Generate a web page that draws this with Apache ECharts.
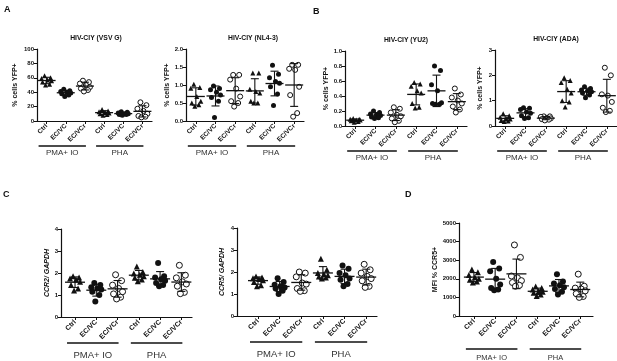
<!DOCTYPE html>
<html>
<head>
<meta charset="utf-8">
<script src="https://cdn.jsdelivr.net/npm/echarts@6/dist/echarts.min.js"></script>
<style>
html,body{margin:0;padding:0;background:#fff}
#chart{width:617px;height:361px}
</style>
</head>
<body>
<div id="chart"></div>
<script>
// categories & group labels
var categories = ['Ctrl', 'EC/VC', 'EC/VCr', 'Ctrl', 'EC/VC', 'EC/VCr'];
var stimGroups = ['PMA+ IO', 'PHA'];

// one array per panel, one sub array per category
var vsvG = [
    [63, 60, 59, 57, 56, 54, 51, 50],
    [44, 42, 41, 40, 39, 38, 36, 34],
    [56, 54, 52, 50, 47, 45, 43, 41],
    [16, 14, 13, 12, 11, 10, 9, 8],
    [13, 12, 11, 10, 10, 9, 9, 8],
    [26, 22, 17, 14, 10, 7, 6, 5]
];
var nl43 = [
    [1.02, 0.93, 0.91, 0.68, 0.55, 0.5, 0.45, 0.41],
    [0.97, 0.9, 0.87, 0.8, 0.72, 0.65, 0.55, 0.1],
    [1.28, 1.28, 1.15, 0.9, 0.68, 0.55, 0.5, 0.4],
    [1.33, 1.33, 0.88, 0.82, 0.78, 0.55, 0.5, 0.5],
    [1.55, 1.3, 1.2, 1.1, 1.05, 0.95, 0.75, 0.43],
    [1.56, 1.56, 1.45, 1.42, 0.95, 0.72, 0.22, 0.12]
];
var yu2 = [
    [0.1, 0.09, 0.09, 0.08, 0.08, 0.07, 0.06, 0.05],
    [0.2, 0.18, 0.16, 0.15, 0.14, 0.12, 0.11, 0.1],
    [0.25, 0.23, 0.18, 0.15, 0.13, 0.1, 0.07, 0.05],
    [0.58, 0.56, 0.53, 0.47, 0.44, 0.3, 0.25, 0.24],
    [0.8, 0.74, 0.55, 0.47, 0.31, 0.3, 0.29, 0.29],
    [0.5, 0.42, 0.38, 0.34, 0.3, 0.26, 0.22, 0.18]
];
var ada = [
    [0.48, 0.4, 0.35, 0.3, 0.28, 0.22, 0.2, 0.18],
    [0.72, 0.7, 0.65, 0.55, 0.5, 0.4, 0.33, 0.3],
    [0.38, 0.38, 0.36, 0.32, 0.3, 0.27, 0.25, 0.22],
    [1.9, 1.8, 1.72, 1.45, 1.3, 1.0, 0.95, 0.75],
    [1.55, 1.48, 1.42, 1.38, 1.35, 1.3, 1.22, 1.12],
    [2.3, 2.0, 1.25, 1.2, 0.95, 0.72, 0.6, 0.55]
];
var ccr2 = [
    [1.85, 1.8, 1.75, 1.7, 1.6, 1.45, 1.3, 1.2],
    [1.55, 1.45, 1.35, 1.3, 1.25, 1.15, 1.0, 0.7],
    [1.92, 1.65, 1.45, 1.3, 1.15, 1.05, 0.9, 0.82],
    [2.3, 2.05, 1.98, 1.92, 1.85, 1.78, 1.7, 1.62],
    [2.45, 1.85, 1.8, 1.72, 1.65, 1.55, 1.45, 1.4],
    [2.35, 1.9, 1.78, 1.6, 1.5, 1.4, 1.12, 1.06]
];
var ccr5 = [
    [1.8, 1.75, 1.72, 1.68, 1.62, 1.55, 1.4, 1.35],
    [1.72, 1.55, 1.42, 1.35, 1.3, 1.25, 1.15, 1.0],
    [2.0, 1.95, 1.78, 1.5, 1.45, 1.25, 1.15, 1.12],
    [2.6, 2.1, 1.95, 1.9, 1.85, 1.8, 1.75, 1.7],
    [2.3, 2.15, 1.95, 1.85, 1.7, 1.65, 1.45, 1.35],
    [2.35, 2.1, 1.95, 1.8, 1.7, 1.6, 1.35, 1.3]
];
var mfiCcr5 = [
    [2500, 2350, 2200, 2080, 2000, 1950, 1850, 1800],
    [2900, 2550, 2400, 2000, 1700, 1500, 1420, 1380],
    [3820, 3150, 2150, 2050, 1900, 1800, 1650, 1600],
    [1580, 1500, 1420, 1350, 1300, 1250, 1150, 1080],
    [2250, 1850, 1750, 1650, 1550, 1450, 1300, 1150],
    [2250, 1600, 1500, 1450, 1350, 1200, 1050, 1000]
];

// y tick labels
var ticksVsv = ['0', '20', '40', '60', '80', '100'];
var ticksNl = ['0.0', '0.5', '1.0', '1.5', '2.0'];
var ticksYu = ['0.0', '0.2', '0.4', '0.6', '0.8', '1.0'];
var ticksAda = ['0', '1', '2', '3'];
var ticksCcr = ['0', '1', '2', '3', '4'];
var ticksMfi = ['0', '1000', '2000', '3000', '4000', '5000'];

// styles
var INK = '#111';
var FONT = '"Liberation Sans", Arial, sans-serif';
var SYMBOLS = ['triangle', 'circle', 'circle', 'triangle', 'circle', 'circle'];
var OPEN = [false, false, true, false, false, true];
var JITTER = [-2, 4, -5, 1, 5, -4, 3, -1];

var panels = [
    {data: vsvG, ticks: ticksVsv, title: 'HIV-CIY (VSV G)', yName: '% cells YFP+', left: 37, top: 49, width: 115, height: 72, xMin: -0.5, xMax: 5.5, nameGap: 18, sym: 5, lineDy: 25, labelDy: 32, labelSize: 8},
    {data: nl43, ticks: ticksNl, title: 'HIV-CIY (NL4-3)', yName: '% cells YFP+', left: 186, top: 49, width: 118, height: 72, xMin: -0.5, xMax: 5.5, nameGap: 15, sym: 5, lineDy: 25, labelDy: 32, labelSize: 8},
    {data: yu2, ticks: ticksYu, title: 'HIV-CIY (YU2)', yName: '% cells YFP+', left: 345, top: 51, width: 122, height: 75, xMin: -0.5, xMax: 5.5, nameGap: 12, sym: 5, lineDy: 25, labelDy: 32, labelSize: 8},
    {data: ada, ticks: ticksAda, title: 'HIV-CIY (ADA)', yName: '% cells YFP+', left: 495, top: 50, width: 122, height: 76, xMin: -0.5, xMax: 5.5, nameGap: 11, sym: 5, lineDy: 25, labelDy: 32, labelSize: 8},
    {data: ccr2, ticks: ticksCcr, title: '', yName: 'CCR2/ GAPDH', italic: true, left: 61, top: 229, width: 131, height: 88, xMin: -0.66, xMax: 5.5, nameGap: 9, sym: 6, lineDy: 26, labelDy: 38, labelSize: 9.5},
    {data: ccr5, ticks: ticksCcr, title: '', yName: 'CCR5/ GAPDH', italic: true, left: 237, top: 228, width: 140, height: 88, xMin: -0.97, xMax: 5.5, nameGap: 11, sym: 6, lineDy: 26, labelDy: 38, labelSize: 9.5},
    {data: mfiCcr5, ticks: ticksMfi, title: '', yName: 'MFI % CCR5+', left: 459, top: 223, width: 134, height: 93, xMin: -0.7, xMax: 5.6, nameGap: 20, sym: 6, lineDy: 33, labelDy: 42, labelSize: 7.5}
];

function meanSd(arr) {
    var m = arr.reduce(function (a, b) { return a + b; }, 0) / arr.length;
    var v = arr.reduce(function (a, b) { return a + (b - m) * (b - m); }, 0) / (arr.length - 1);
    return [m, Math.sqrt(v)];
}

var idx = [0, 1, 2, 3, 4, 5];
var grids = [], xAxes = [], yAxes = [], series = [];

panels.forEach(function (p, pi) {
    grids.push({left: p.left, top: p.top, width: p.width, height: p.height});
    xAxes.push({
        type: 'value', gridIndex: pi, min: p.xMin, max: p.xMax,
        splitLine: {show: false},
        axisLine: {onZero: false, lineStyle: {color: INK, width: 1.2}},
        axisTick: {customValues: idx, length: 3, lineStyle: {color: INK}},
        axisLabel: {
            customValues: idx, rotate: 45, margin: 4,
            fontSize: pi < 4 ? 6.5 : 7, fontWeight: 'bold', fontFamily: FONT, color: INK,
            formatter: function (v) { return categories[Math.round(v)]; }
        }
    });
    var nums = p.ticks.map(parseFloat);
    yAxes.push({
        type: 'value', gridIndex: pi,
        min: nums[0], max: nums[nums.length - 1], interval: nums[1] - nums[0],
        splitLine: {show: false},
        axisLine: {show: true, onZero: false, lineStyle: {color: INK, width: 1.2}},
        axisTick: {show: true, length: 3, lineStyle: {color: INK}},
        axisLabel: {
            margin: 3, fontSize: 6, fontWeight: 'bold', fontFamily: FONT, color: INK,
            formatter: function (v) { return p.ticks[nums.indexOf(v)] || ''; }
        },
        name: p.yName, nameLocation: 'middle', nameRotate: 90, nameGap: p.nameGap,
        nameTextStyle: {fontSize: 7, fontWeight: 'bold', fontStyle: p.italic ? 'italic' : 'normal', fontFamily: FONT, color: INK}
    });

    p.data.forEach(function (vals, g) {
        series.push({
            type: 'scatter', xAxisIndex: pi, yAxisIndex: pi,
            symbol: SYMBOLS[g], symbolSize: p.sym,
            itemStyle: {color: OPEN[g] ? '#fff' : INK, borderColor: INK, borderWidth: OPEN[g] ? 1 : 0, opacity: 1},
            data: vals.map(function (v, k) {
                return {value: [g, v], symbolOffset: [JITTER[k % JITTER.length], 0]};
            }),
            z: 2, silent: true, clip: false
        });
    });

    var hw = p.sym + 4, cw = 4;
    series.push({
        type: 'custom', xAxisIndex: pi, yAxisIndex: pi, z: 3, silent: true,
        data: p.data.map(function (vals, g) { var s = meanSd(vals); return [g, s[0], s[1]]; }),
        renderItem: function (params, api) {
            var x = api.value(0), m = api.value(1), s = api.value(2);
            var c = api.coord([x, m]), t = api.coord([x, m + s]), b = api.coord([x, m - s]);
            var st = {stroke: INK, lineWidth: 1.1};
            return {type: 'group', children: [
                {type: 'line', shape: {x1: c[0] - hw, y1: c[1], x2: c[0] + hw, y2: c[1]}, style: {stroke: INK, lineWidth: 1.3}},
                {type: 'line', shape: {x1: c[0], y1: t[1], x2: c[0], y2: b[1]}, style: st},
                {type: 'line', shape: {x1: c[0] - cw, y1: t[1], x2: c[0] + cw, y2: t[1]}, style: st},
                {type: 'line', shape: {x1: c[0] - cw, y1: b[1], x2: c[0] + cw, y2: b[1]}, style: st}
            ]};
        }
    });
});

function txt(text, x, y, size, weight, align) {
    return {
        type: 'text', x: x, y: y, silent: true,
        style: {text: text, fill: INK, font: weight + ' ' + size + 'px ' + FONT,
            align: align || 'center', verticalAlign: 'middle',
            textAlign: align || 'center', textVerticalAlign: 'middle'}
    };
}

var chart = echarts.init(document.getElementById('chart'), null, {renderer: 'canvas'});
chart.setOption({
    animation: false,
    backgroundColor: '#fff',
    grid: grids, xAxis: xAxes, yAxis: yAxes, series: series
});

// titles, panel letters, treatment bars under the categories
var graphics = [
    txt('A', 4, 10, 9, 'bold', 'left'),
    txt('B', 313, 12, 9, 'bold', 'left'),
    txt('C', 3, 195, 9, 'bold', 'left'),
    txt('D', 405, 195, 9, 'bold', 'left')
];
var titleX = [96, 253, 406, 556];
panels.forEach(function (p, pi) {
    if (p.title) graphics.push(txt(p.title, titleX[pi], p.top - 11, 6.8, 'bold'));
    var base = p.top + p.height;
    [[0, 2], [3, 5]].forEach(function (r, gi) {
        var a = chart.convertToPixel({gridIndex: pi}, [r[0], 0])[0] - 8;
        var b = chart.convertToPixel({gridIndex: pi}, [r[1], 0])[0] + 1;
        graphics.push({type: 'line', silent: true,
            shape: {x1: a, y1: base + p.lineDy, x2: b, y2: base + p.lineDy},
            style: {stroke: INK, lineWidth: 1.3}});
        var t = txt(stimGroups[gi], (a + b) / 2, base + p.labelDy, p.labelSize, 'normal');
        t.style.fill = '#333';
        graphics.push(t);
    });
});
chart.setOption({graphic: graphics});
</script>
</body>
</html>
